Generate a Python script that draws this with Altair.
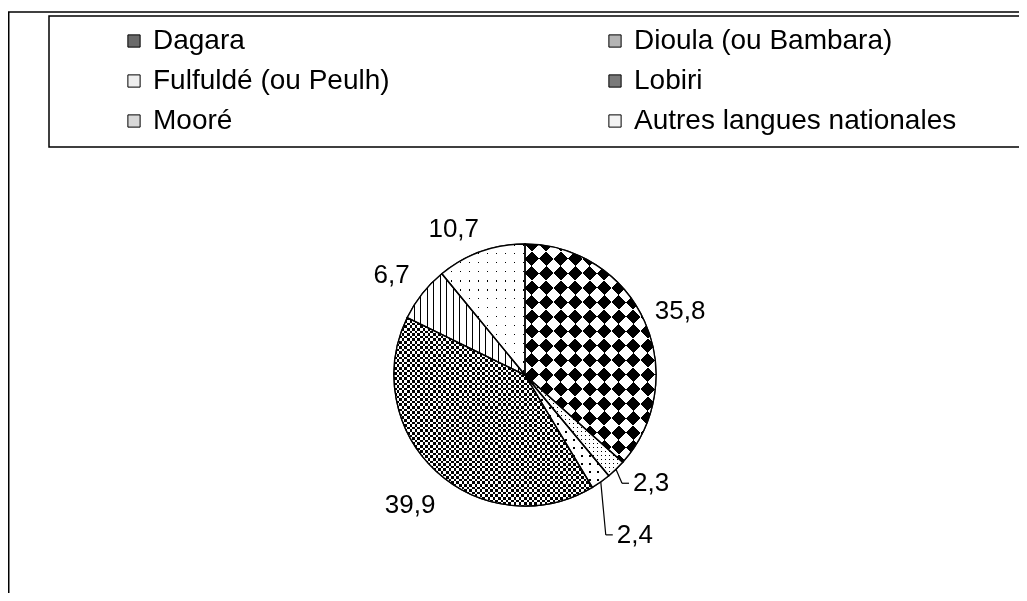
import math
import altair as alt
import pandas as pd

# ---- data ----
languages = ["Dagara", "Dioula (ou Bambara)", "Fulfuldé (ou Peulh)", "Lobiri",
             "Mooré", "Autres langues nationales"]
values = [35.8, 2.3, 2.4, 39.9, 6.7, 10.7]
labels = ["35,8", "2,3", "2,4", "39,9", "6,7", "10,7"]
order = [0, 1, 2, 3, 4, 5]

# ---- style ----
fills = ["#6a6a6a", "#b4b4b4", "#eeeeee", "#7a7a7a", "#d8d8d8", "#f3f3f3"]
FONT = "Liberation Sans"
W, H = 1011, 585
CX, CY = 517, 367
R = 131

df = pd.DataFrame({"langue": languages, "valeur": values, "etiquette": labels, "ordre": order})

theta_scale = alt.Scale(domain=[0, 1], range=[0, 2 * math.pi])

base = (
    alt.Chart(df)
    .transform_joinaggregate(total="sum(valeur)")
    .transform_window(cum="sum(valeur)", sort=[alt.SortField("ordre")], frame=[None, 0])
    .transform_calculate(
        t0="(datum.cum - datum.valeur) / datum.total",
        t1="datum.cum / datum.total",
        tm="(datum.cum - datum.valeur / 2) / datum.total",
    )
)
ENC = dict(x=alt.value(CX), y=alt.value(CY),
           theta=alt.Theta("t0:Q", scale=theta_scale), theta2="t1:Q")


def wedge_box(name):
    """pixel width/height of a wedge's bounding box (for pattern scaling)"""
    i = languages.index(name)
    tot = sum(values)
    a0 = 2 * math.pi * sum(values[:i]) / tot
    a1 = 2 * math.pi * sum(values[:i + 1]) / tot
    angs = [a0, a1] + [k * math.pi / 2 for k in range(5) if a0 < k * math.pi / 2 < a1]
    xs = [0] + [R * math.sin(a) for a in angs]
    ys = [0] + [-R * math.cos(a) for a in angs]
    return max(xs) - min(xs), max(ys) - min(ys)


def stripe_stops(period, duty, on, off):
    """hard-edged stripes in gradient offset space"""
    stops, k = [], 0
    while k * period < 1:
        a = k * period
        b = min(1, a + duty * period)
        stops += [alt.GradientStop(color=off, offset=a), alt.GradientStop(color=on, offset=a),
                  alt.GradientStop(color=on, offset=b), alt.GradientStop(color=off, offset=b)]
        k += 1
    stops.append(alt.GradientStop(color=off, offset=1))
    return stops


def pattern_layer(name, grad, blend=None):
    kw = dict(radius=R, strokeWidth=0, fill=grad)
    if blend:
        kw["blend"] = blend
    return base.transform_filter(alt.datum.langue == name).mark_arc(**kw).encode(**ENC)


pattern_layers = []

# Dagara: diamond checker = XOR of two diagonal stripe sets
w, h = wedge_box("Dagara")
s = 14.5  # diamond spacing in px
c = (w + h) / (w * w + h * h)
per = 2 * s / (w + h)
pattern_layers.append(pattern_layer("Dagara", alt.LinearGradient(
    gradient="linear", stops=stripe_stops(per, 0.5, "black", "white"),
    x1=0, y1=0, x2=w * c, y2=h * c)))
pattern_layers.append(pattern_layer("Dagara", alt.LinearGradient(
    gradient="linear", stops=stripe_stops(per, 0.5, "white", "black"),
    x1=0, y1=1, x2=w * c, y2=1 - h * c), blend="difference"))

# Lobiri: fine square checker
w, h = wedge_box("Lobiri")
cell = 2.6
pattern_layers.append(pattern_layer("Lobiri", alt.LinearGradient(
    gradient="linear", stops=stripe_stops(2 * cell / w, 0.5, "black", "white"),
    x1=0, y1=0, x2=1, y2=0)))
pattern_layers.append(pattern_layer("Lobiri", alt.LinearGradient(
    gradient="linear", stops=stripe_stops(2 * cell / h, 0.5, "white", "black"),
    x1=0, y1=0, x2=0, y2=1), blend="difference"))

# Dioula: lighter fine checker
w, h = wedge_box("Dioula (ou Bambara)")
cell = 2.0
pattern_layers.append(pattern_layer("Dioula (ou Bambara)", alt.LinearGradient(
    gradient="linear", stops=stripe_stops(2 * cell / w, 0.35, "black", "white"),
    x1=0, y1=0, x2=1, y2=0)))
pattern_layers.append(pattern_layer("Dioula (ou Bambara)", alt.LinearGradient(
    gradient="linear", stops=stripe_stops(2 * cell / h, 0.35, "black", "white"),
    x1=0, y1=0, x2=0, y2=1), blend="lighten"))

# Mooré: vertical hatching
w, h = wedge_box("Mooré")
pattern_layers.append(pattern_layer("Mooré", alt.LinearGradient(
    gradient="linear", stops=stripe_stops(6.5 / w, 1.1 / 6.5, "black", "white"),
    x1=0, y1=0, x2=1, y2=0)))

# Autres / Fulfuldé: sparse dots = intersection of thin stripes
for name, sp in [("Autres langues nationales", 9.0), ("Fulfuldé (ou Peulh)", 8.0)]:
    w, h = wedge_box(name)
    pattern_layers.append(pattern_layer(name, alt.LinearGradient(
        gradient="linear", stops=stripe_stops(sp / w, 1.5 / sp, "black", "white"),
        x1=0, y1=0, x2=1, y2=0)))
    pattern_layers.append(pattern_layer(name, alt.LinearGradient(
        gradient="linear", stops=stripe_stops(sp / h, 1.5 / sp, "black", "white"),
        x1=0, y1=0, x2=0, y2=1), blend="lighten"))

arcs = base.mark_arc(radius=R, stroke="black", strokeWidth=1.2).encode(
    color=alt.Color(
        "langue:N",
        scale=alt.Scale(domain=languages, range=fills),
        legend=alt.Legend(
            title=None,
            orient="none",
            legendX=112,
            legendY=19,
            direction="horizontal",
            columns=2,
            columnPadding=211,
            rowPadding=12,
            symbolType="square",
            symbolSize=150,
            symbolStrokeColor="black",
            symbolStrokeWidth=1,
            symbolOpacity=1,
            labelFont=FONT,
            labelFontSize=28,
            labelColor="black",
            labelLimit=0,
            labelOffset=5,
        ),
    ),
    **ENC,
)

outline = base.mark_arc(radius=R, stroke="black", strokeWidth=1.4,
                        fill="white", fillOpacity=0).encode(**ENC)

LAB = dict(font=FONT, fontSize=26, color="black", radius=170, align="center",
           baseline="middle", dy=5)
txt = base.transform_filter(
    alt.FieldOneOfPredicate(field="langue", oneOf=["Dagara", "Lobiri", "Mooré"])
).mark_text(**LAB).encode(
    x=alt.value(CX), y=alt.value(CY),
    theta=alt.Theta("tm:Q", scale=theta_scale), text="etiquette:N")
LAB2 = dict(LAB, dx=-14, dy=14)
txt2 = base.transform_filter(alt.datum.langue == "Autres langues nationales").mark_text(**LAB2).encode(
    x=alt.value(CX), y=alt.value(CY),
    theta=alt.Theta("tm:Q", scale=theta_scale), text="etiquette:N")


def small_label(name, ex, ey, hx, tdx):
    # edge point at mid angle, elbow offset (ex, ey), horizontal tick of hx, text offset tdx
    b = base.transform_filter(alt.datum.langue == name).transform_calculate(
        px=f"{CX} + {R} * sin(2 * PI * datum.tm)",
        py=f"{CY} - {R} * cos(2 * PI * datum.tm)",
    ).transform_calculate(
        ex=f"datum.px + {ex}", ey=f"datum.py + {ey}", hx=f"datum.px + {ex + hx}",
    )
    l1 = b.mark_rule(color="black", strokeWidth=1.2).encode(
        x=alt.X("px:Q", scale=None), y=alt.Y("py:Q", scale=None),
        x2="ex:Q", y2="ey:Q")
    l2 = b.mark_rule(color="black", strokeWidth=1.2).encode(
        x=alt.X("ex:Q", scale=None), y=alt.Y("ey:Q", scale=None),
        x2="hx:Q", y2="ey:Q")
    t = b.mark_text(font=FONT, fontSize=26, color="black", align="left",
                    baseline="middle", dx=tdx).encode(
        x=alt.X("hx:Q", scale=None), y=alt.Y("ey:Q", scale=None), text="etiquette:N")
    return [l1, l2, t]


dummy = alt.Chart(pd.DataFrame({"k": [0]}))
frame_v = dummy.mark_rule(color="black", strokeWidth=1.5).encode(
    x=alt.value(0.75), y=alt.value(4), y2=alt.value(H))
frame_h = dummy.mark_rule(color="black", strokeWidth=1.5).encode(
    x=alt.value(0), x2=alt.value(W), y=alt.value(4))
legbox = dummy.mark_rect(fill="white", stroke="black", strokeWidth=1.5).encode(
    x=alt.value(41), x2=alt.value(W + 10), y=alt.value(8), y2=alt.value(139))

layers = [frame_v, frame_h, legbox, arcs] + pattern_layers + [outline, txt, txt2]
layers += small_label("Dioula (ou Bambara)", 6, 14, 7, 4)
layers += small_label("Fulfuldé (ou Peulh)", 5, 53, 7, 4)

chart = alt.layer(*layers).properties(
    width=W, height=H, autosize=alt.AutoSizeParams(type="none"), padding=0
).configure_view(stroke=None)

chart.save("out.html", embed_options={"renderer": "svg", "actions": False})
